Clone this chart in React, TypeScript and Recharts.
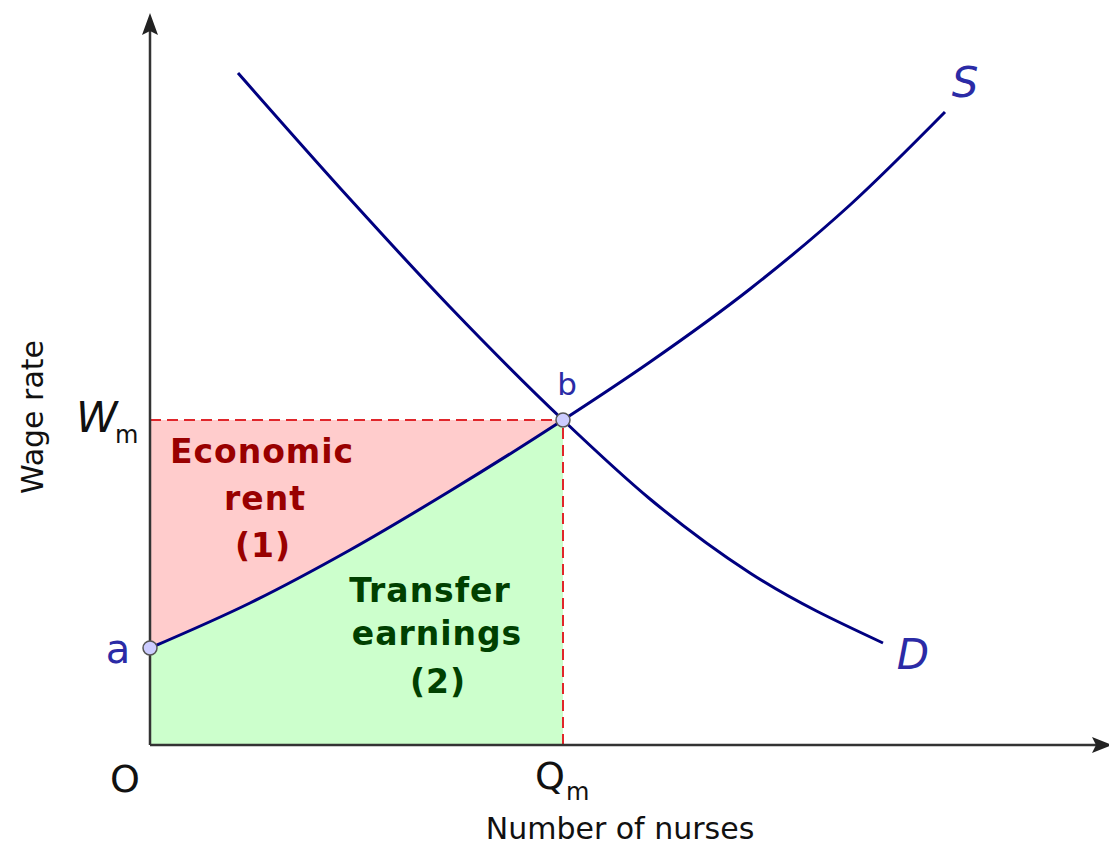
import React from 'react';
import { ComposedChart, Line, Area, XAxis, YAxis, ReferenceLine, ReferenceDot } from 'recharts';

// Supply curve (S): number of nurses vs wage rate
const supplyQty = [0, 10, 20, 30, 41.3, 50, 60, 70, 79.5];
const supplyWage = [9.7, 14.2, 19.5, 25.4, 32.5, 38.3, 45.6, 54.0, 63.3];
// Demand curve (D)
const demandQty = [8.8, 20, 30, 41.3, 50, 60, 73.3];
const demandWage = [67.2, 54.6, 43.8, 32.5, 24.6, 17.2, 10.2];
// Equilibrium
const marketQty = 41.3; // Qm
const marketWage = 32.5; // Wm
const xMax = 95.5;
const yMax = 72.5;

const supplyData = supplyQty.map((x, i) => ({ x, w: supplyWage[i] }));
const demandData = demandQty.map((x, i) => ({ x, w: demandWage[i] }));
const surplusData = supplyData.filter((d) => d.x <= marketQty);

const FONT = 'DejaVu Sans';
const BLUE = '#2b2ba6';
const NAVY = '#000080';
const DRED = '#990000';
const DGREEN = '#004000';
const DASH = '#e0262b';

const mkText = (
  text: string,
  opts: { size: number; color?: string; dx?: number; dy?: number; weight?: string; italic?: boolean; anchor?: string; spacing?: number; rotate?: boolean }
) => (props: any) => {
  const { cx, cy } = props;
  const x = cx + (opts.dx || 0);
  const y = cy + (opts.dy || 0);
  return (
    <text
      x={x}
      y={y}
      fontFamily={FONT}
      fontSize={opts.size}
      fill={opts.color || '#111'}
      fontWeight={opts.weight || 'normal'}
      fontStyle={opts.italic ? 'italic' : 'normal'}
      textAnchor={(opts.anchor as any) || 'middle'}
      letterSpacing={opts.spacing || 0}
      transform={opts.rotate ? `rotate(-90, ${x}, ${y})` : undefined}
    >
      {text}
    </text>
  );
};

const ArrowUp = (props: any) => {
  const { cx, cy } = props;
  return <polygon points={`${cx},${cy - 7} ${cx + 8},${cy + 15} ${cx},${cy + 11} ${cx - 8},${cy + 15}`} fill="#222" />;
};
const ArrowRight = (props: any) => {
  const { cx, cy } = props;
  return <polygon points={`${cx + 7},${cy} ${cx - 13},${cy - 8} ${cx - 9},${cy} ${cx - 13},${cy + 8}`} fill="#222" />;
};
const PointDot = (props: any) => {
  const { cx, cy } = props;
  return <circle cx={cx} cy={cy} r={7} fill="#ccccff" stroke="#555" strokeWidth={1.5} />;
};

export default function App() {
  return (
    <div style={{ position: 'absolute', left: 0, top: 0, width: 1109, height: 848, background: '#fff' }}>
      <ComposedChart width={1109} height={848} margin={{ top: 20, right: 4, bottom: 0, left: 0 }}>
        <XAxis
          type="number"
          dataKey="x"
          domain={[0, xMax]}
          allowDataOverflow
          height={103}
          tick={false}
          tickLine={false}
          axisLine={{ stroke: '#333', strokeWidth: 2.5 }}
        />
        <YAxis
          type="number"
          dataKey="w"
          domain={[0, yMax]}
          allowDataOverflow
          width={150}
          tick={false}
          tickLine={false}
          axisLine={{ stroke: '#333', strokeWidth: 2.5 }}
        />
        <Area
          data={surplusData}
          dataKey={(d: any) => [d.w, marketWage]}
          type="monotone"
          fill="#ffcccc"
          fillOpacity={1}
          stroke="none"
          isAnimationActive={false}
        />
        <Area
          data={surplusData}
          dataKey="w"
          baseValue={0}
          type="monotone"
          fill="#ccffcc"
          fillOpacity={1}
          stroke="none"
          isAnimationActive={false}
        />
        <ReferenceLine
          segment={[{ x: 0, y: marketWage }, { x: marketQty, y: marketWage }]}
          stroke={DASH}
          strokeWidth={2}
          strokeDasharray="11 6"
        />
        <ReferenceLine
          segment={[{ x: marketQty, y: 0 }, { x: marketQty, y: marketWage }]}
          stroke={DASH}
          strokeWidth={2}
          strokeDasharray="11 6"
        />
        <Line data={supplyData} dataKey="w" type="monotone" stroke={NAVY} strokeWidth={3} dot={false} activeDot={false} isAnimationActive={false} />
        <Line data={demandData} dataKey="w" type="monotone" stroke={NAVY} strokeWidth={3} dot={false} activeDot={false} isAnimationActive={false} />

        <ReferenceDot x={0} y={supplyWage[0]} ifOverflow="visible" shape={PointDot} />
        <ReferenceDot x={marketQty} y={marketWage} ifOverflow="visible" shape={PointDot} />

        <ReferenceDot x={0} y={yMax} ifOverflow="visible" shape={ArrowUp} />
        <ReferenceDot x={xMax} y={0} ifOverflow="visible" shape={ArrowRight} />

        <ReferenceDot x={0} y={supplyWage[0]} ifOverflow="visible" shape={mkText('a', { size: 40, color: BLUE, dx: -32, dy: 15 })} />
        <ReferenceDot x={marketQty} y={marketWage} ifOverflow="visible" shape={mkText('b', { size: 31, color: BLUE, dx: 4, dy: -25 })} />
        <ReferenceDot x={supplyQty[supplyQty.length - 1]} y={supplyWage[supplyWage.length - 1]} ifOverflow="visible" shape={mkText('S', { size: 42, color: BLUE, italic: true, dx: 20, dy: -15 })} />
        <ReferenceDot x={demandQty[demandQty.length - 1]} y={demandWage[demandWage.length - 1]} ifOverflow="visible" shape={mkText('D', { size: 42, color: BLUE, italic: true, dx: 30, dy: 26 })} />

        <ReferenceDot x={0} y={marketWage} ifOverflow="visible" shape={mkText('W', { size: 42, italic: true, anchor: 'start', dx: -74, dy: 12 })} />
        <ReferenceDot x={0} y={marketWage} ifOverflow="visible" shape={mkText('m', { size: 24, anchor: 'start', dx: -35, dy: 23 })} />
        <ReferenceDot x={0} y={0} ifOverflow="visible" shape={mkText('O', { size: 38, dx: -25, dy: 47 })} />
        <ReferenceDot x={marketQty} y={0} ifOverflow="visible" shape={mkText('Q', { size: 38, anchor: 'start', dx: -28, dy: 44 })} />
        <ReferenceDot x={marketQty} y={0} ifOverflow="visible" shape={mkText('m', { size: 24, anchor: 'start', dx: 3, dy: 55 })} />

        <ReferenceDot x={47} y={-9.4} ifOverflow="visible" shape={mkText('Number of nurses', { size: 30 })} />
        <ReferenceDot x={-10.7} y={32.8} ifOverflow="visible" shape={mkText('Wage rate', { size: 30, rotate: true })} />

        <ReferenceDot x={11.2} y={28.2} ifOverflow="visible" shape={mkText('Economic', { size: 33, weight: 'bold', color: DRED, spacing: 1 })} />
        <ReferenceDot x={11.5} y={23.5} ifOverflow="visible" shape={mkText('rent', { size: 33, weight: 'bold', color: DRED, spacing: 1 })} />
        <ReferenceDot x={11.3} y={18.8} ifOverflow="visible" shape={mkText('(1)', { size: 33, weight: 'bold', color: DRED, spacing: 1 })} />
        <ReferenceDot x={28.0} y={14.3} ifOverflow="visible" shape={mkText('Transfer', { size: 33, weight: 'bold', color: DGREEN, spacing: 1 })} />
        <ReferenceDot x={28.7} y={10.0} ifOverflow="visible" shape={mkText('earnings', { size: 33, weight: 'bold', color: DGREEN, spacing: 1 })} />
        <ReferenceDot x={28.8} y={5.2} ifOverflow="visible" shape={mkText('(2)', { size: 33, weight: 'bold', color: DGREEN, spacing: 1 })} />
      </ComposedChart>
    </div>
  );
}
